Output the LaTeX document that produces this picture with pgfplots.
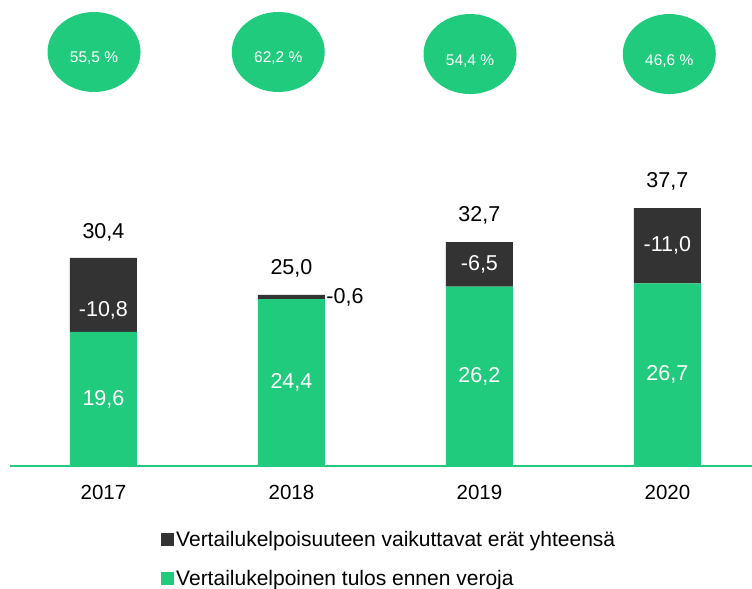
\documentclass[border=0pt]{standalone}
\usepackage{fontspec}
\setmainfont{Liberation Sans}
\usepackage{pgfplots}
\pgfplotsset{compat=1.18}
\usetikzlibrary{shapes.geometric,calc}
\definecolor{tulosgreen}{HTML}{20CB7D}
\definecolor{eradark}{HTML}{333333}

\pgfplotsset{
  frame/.style={scale only axis, width=742pt, height=466pt,
    xmin=-0.497, xmax=3.45, ymin=0, ymax=68.1},
  lbl/.style={only marks, mark=*, mark size=0pt, mark options={draw=none,fill=none},
    nodes near coords, point meta=explicit symbolic},
}

\begin{document}
\begin{tikzpicture}
\begin{axis}[frame,
  ybar stacked, bar width=67pt,
  axis x line*=bottom, axis y line=none,
  x axis line style={draw=tulosgreen, line width=2pt},
  xtick={0,1,2,3}, xticklabels={2017,2018,2019,2020},
  major tick length=0pt, ytick=\empty,
  xticklabel style={font=\fontsize{20.5}{24}\selectfont, yshift=-16pt},
  reverse legend,
  legend style={at={(0.1995,-0.131)}, anchor=north west, draw=none, fill=none,
    font=\fontsize{21}{25}\selectfont, cells={anchor=west}, row sep=18.5pt},
  legend image code/.code={\fill[#1] (0pt,-6.5pt) rectangle (13pt,6.5pt);},
]
\addplot[fill=tulosgreen, draw=none] coordinates {(0,19.6) (1,24.4) (2,26.2) (3,26.7)};
\addlegendentry{Vertailukelpoinen tulos ennen veroja}
\addplot[fill=eradark, draw=none] coordinates {(0,10.8) (1,0.6) (2,6.5) (3,11.0)};
\addlegendentry{Vertailukelpoisuuteen vaikuttavat erät yhteensä}
\coordinate (bl) at (rel axis cs:0,0);
\coordinate (tr) at (rel axis cs:1,1);
\end{axis}

\begin{axis}[frame, axis lines=none, ticks=none, clip=false]
% shares inside the green bars
\addplot[lbl, nodes near coords style={white, font=\fontsize{21.5}{25}\selectfont, anchor=center}]
  coordinates {(0,9.8) [19,6] (1,12.2) [24,4] (2,13.1) [26,2] (3,13.35) [26,7]};
% items inside the dark bars
\addplot[lbl, nodes near coords style={white, font=\fontsize{21.5}{25}\selectfont, anchor=center}]
  coordinates {(0,22.8) [-10,8] (2,29.45) [-6,5] (3,32.2) [-11,0]};
\addplot[lbl, nodes near coords style={black, font=\fontsize{21.5}{25}\selectfont, anchor=west, inner sep=1pt}]
  coordinates {(1.18,24.6) [-0,6]};
% totals
\addplot[lbl, nodes near coords style={black, font=\fontsize{21.5}{25}\selectfont, anchor=center}]
  coordinates {(0,34.2) [30,4] (1,28.9) [25,0] (2,36.6) [32,7] (3,41.6) [37,7]};
% percentage bubbles
\addplot[lbl, nodes near coords style={ellipse, fill=tulosgreen, text=white, inner sep=0pt,
    minimum width=93pt, minimum height=80pt, anchor=center, text height=22pt, text depth=0pt,
    font=\fontsize{15.5}{18}\selectfont}]
  coordinates {(-0.05,60.5) [55,5 \%] (0.93,60.5) [62,2 \%] (1.95,60.2) [54,4 \%] (3.01,60.2) [46,6 \%]};
\end{axis}

\pgfresetboundingbox
\path ($(bl)+(-10pt,-123pt)$) rectangle (tr);
\end{tikzpicture}
\end{document}
